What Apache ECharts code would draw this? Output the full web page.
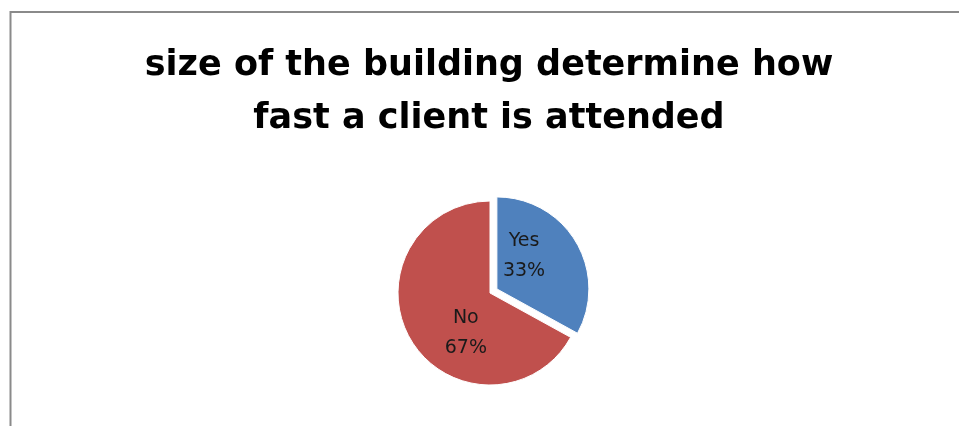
<!DOCTYPE html>
<html>
<head>
<meta charset="utf-8">
<script src="https://cdn.jsdelivr.net/npm/echarts@6/dist/echarts.min.js"></script>
<style>
  html, body { margin: 0; padding: 0; background: #ffffff; }
  #chart { width: 959px; height: 426px; }
</style>
</head>
<body>
<div id="chart"></div>
<script>
// Survey answers: does the size of the building affect how fast a client is served
const categories = ['Yes', 'No'];
const shares = [33, 67];
const sliceColors = ['#4F81BD', '#C0504D'];
const titleText = 'size of the building determine how\nfast a client is attended';

const chart = echarts.init(document.getElementById('chart'), null, { renderer: 'canvas' });

// nudge each inside label toward where the answer text sits in the slice
const labelShift = [[-15, -8], [18, 15]];

chart.setOption({
  animation: false,
  backgroundColor: '#ffffff',
  title: {
    text: titleText,
    left: 489,
    top: 39,
    padding: 0,
    textAlign: 'center',
    textStyle: {
      fontFamily: 'DejaVu Sans',
      fontWeight: 'bold',
      fontSize: 35,
      lineHeight: 53,
      color: '#000000'
    }
  },
  graphic: [{
    type: 'rect',
    silent: true,
    shape: { x: 10.5, y: 12, width: 1000, height: 500 },
    style: { fill: 'none', stroke: '#8a8a8a', lineWidth: 2 }
  }],
  series: [{
    type: 'pie',
    center: [490, 293],
    radius: 92,
    startAngle: 90,
    clockwise: true,
    selectedMode: 'single',
    selectedOffset: 8,
    emphasis: { disabled: true },
    itemStyle: { borderColor: '#ffffff', borderWidth: 1 },
    label: {
      show: true,
      position: 'inside',
      formatter: '{b}\n{d}%',
      fontFamily: 'DejaVu Sans',
      fontSize: 19,
      lineHeight: 30,
      color: '#1a1a1a'
    },
    labelLine: { show: false },
    labelLayout: function (params) {
      const s = labelShift[params.dataIndex];
      return { dx: s[0], dy: s[1] };
    },
    data: categories.map(function (name, i) {
      return {
        name: name,
        value: shares[i],
        selected: i === 0,
        itemStyle: { color: sliceColors[i] }
      };
    })
  }]
});
</script>
</body>
</html>
